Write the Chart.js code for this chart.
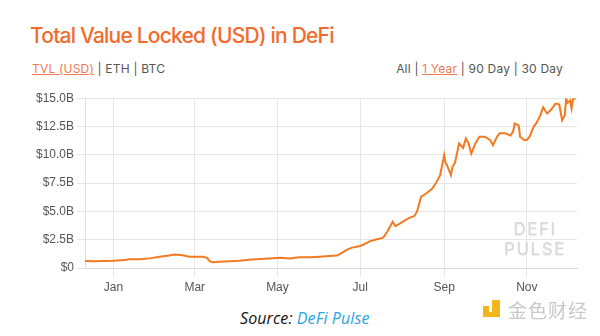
<!DOCTYPE html>
<html>
<head>
<meta charset="utf-8">
<script src="https://cdn.jsdelivr.net/npm/chart.js@4"></script>
<style>
  html, body { margin: 0; padding: 0; background: #fff; }
  body { width: 600px; height: 336px; position: relative; overflow: hidden; font-family: Inter, "Noto Sans", sans-serif; }
  #title { position: absolute; left: 30px; top: 23px; font-size: 21px; font-weight: 500; color: #f26b2c; white-space: nowrap; letter-spacing: -0.8px; }
  .nav { position: absolute; top: 61px; font-size: 12px; color: #555; white-space: nowrap; letter-spacing: 0.2px; }
  .nav .on { color: #f07a55; text-decoration: underline; }
  #navL { left: 32px; }
  #navR { right: 37px; }
  #wrap { position: absolute; left: 0; top: 88px; width: 600px; height: 210px; }
  #wm { position: absolute; left: 501px; top: 219px; width: 68px; text-align: center; color: #dadada; font-family: Inter, sans-serif; font-size: 17px; font-weight: 500; letter-spacing: 1.5px; line-height: 20px; text-shadow: 0 1px 1px #eee; }
  #src { position: absolute; left: 240px; top: 307px; font-family: "Open Sans", sans-serif; font-style: italic; font-size: 16px; color: #111; white-space: nowrap; letter-spacing: 0.1px; }
  #src span { color: #2aa5e3; }
  #logo { position: absolute; left: 483px; top: 299px; white-space: nowrap; }
  #icon { position: absolute; left: 0; top: 1px; width: 20px; height: 17px; }
  #icon .a { position: absolute; left: 0; top: 6px; width: 6px; height: 6px; background: #f2b51c; }
  #icon .b { position: absolute; left: 9px; top: 0; width: 8px; height: 12px; background: #f2b51c; }
  #icon .c { position: absolute; left: 0; top: 12px; width: 17px; height: 5px; background: #f2b51c; }
  #logotext { position: absolute; left: 25px; top: -3px; font-family: "Noto Sans CJK SC", sans-serif; font-size: 19px; color: #c9c9c9; letter-spacing: 1px; }
</style>
</head>
<body>
<div id="title">Total Value Locked (USD) in DeFi</div>
<div class="nav" id="navL"><span class="on">TVL (USD)</span> | ETH | BTC</div>
<div class="nav" id="navR">All | <span class="on">1 Year</span> | 90 Day | 30 Day</div>
<div id="wrap"><canvas id="c" width="600" height="210"></canvas></div>
<div id="wm">DEFI<br>PULSE</div>
<div id="src">Source: <span>DeFi Pulse</span></div>
<div id="logo"><div id="icon"><div class="a"></div><div class="b"></div><div class="c"></div></div><div id="logotext">金色财经</div></div>
<script>
const dates = [
  "2019-12-11","2019-12-18","2020-01-01","2020-01-09","2020-01-13","2020-01-20","2020-01-28",
  "2020-02-04","2020-02-11","2020-02-15","2020-02-19","2020-02-22","2020-02-26","2020-03-01",
  "2020-03-07","2020-03-10","2020-03-12","2020-03-14","2020-03-19","2020-03-27","2020-04-03",
  "2020-04-10","2020-04-18","2020-04-25","2020-05-03","2020-05-10","2020-05-17","2020-05-25",
  "2020-06-01","2020-06-08","2020-06-14","2020-06-17","2020-06-21","2020-06-25","2020-07-01",
  "2020-07-04","2020-07-08","2020-07-12","2020-07-18","2020-07-21","2020-07-25","2020-07-27",
  "2020-07-30","2020-08-03","2020-08-06","2020-08-10","2020-08-12","2020-08-15","2020-08-19",
  "2020-08-23","2020-08-26","2020-08-29","2020-09-01","2020-09-02","2020-09-03","2020-09-06",
  "2020-09-07","2020-09-09","2020-09-12","2020-09-15","2020-09-17","2020-09-19","2020-09-21",
  "2020-09-24","2020-09-27","2020-10-01","2020-10-05","2020-10-07","2020-10-10","2020-10-12",
  "2020-10-16","2020-10-20","2020-10-22","2020-10-23","2020-10-26","2020-10-27","2020-10-30",
  "2020-11-01","2020-11-03","2020-11-06","2020-11-08","2020-11-11","2020-11-13","2020-11-15",
  "2020-11-16","2020-11-19","2020-11-22","2020-11-24","2020-11-25","2020-11-27","2020-11-29",
  "2020-11-30","2020-12-01","2020-12-03","2020-12-04","2020-12-05","2020-12-07"
];
const tvlBillions = [
  0.62,0.60,0.65,0.70,0.77,0.78,0.85,
  1.00,1.10,1.20,1.15,1.10,1.00,1.00,
  1.00,0.90,0.60,0.50,0.55,0.60,0.65,
  0.72,0.80,0.85,0.90,0.85,0.95,0.95,
  1.00,1.05,1.10,1.30,1.60,1.80,1.95,
  2.10,2.35,2.50,2.68,3.20,4.09,3.70,
  3.90,4.20,4.40,4.60,5.00,6.30,6.60,
  7.00,7.50,8.20,9.97,9.30,9.10,8.20,
  8.90,9.30,11.00,10.60,11.45,11.00,10.10,
  11.00,11.60,11.60,11.30,10.85,11.60,11.90,
  11.90,11.70,12.10,12.77,12.60,11.60,11.30,
  11.30,11.60,12.47,12.80,13.50,14.20,13.80,
  13.65,14.00,14.50,14.50,14.40,13.06,13.50,
  15.00,14.60,14.80,14.10,14.90,15.00
];
const monthTickDates = ["2020-01-01","2020-03-01","2020-05-01","2020-07-01","2020-09-01","2020-11-01"];
const monthTickLabels = ["Jan","Mar","May","Jul","Sep","Nov"];
const yTickValues = [0, 2.5, 5, 7.5, 10, 12.5, 15];
const yTickLabels = ["$0","$2.5B","$5.0B","$7.5B","$10.0B","$12.5B","$15.0B"];
const axisStart = "2019-12-11";
const axisEnd = "2020-12-08";

const DAY = 86400000;
const origin = Date.UTC(2020, 0, 1);
const toDay = s => { const p = s.split("-").map(Number); return (Date.UTC(p[0], p[1]-1, p[2]) - origin) / DAY; };
const points = dates.map((d, i) => ({ x: toDay(d), y: tvlBillions[i] }));
const monthTicks = monthTickDates.map(toDay);

const gridColor = "#e6e6e6";
new Chart(document.getElementById("c"), {
  type: "line",
  data: { datasets: [{ data: points, borderColor: "#f47a21", borderWidth: 2, pointRadius: 0, tension: 0, fill: false }] },
  options: {
    responsive: false, animation: false, events: [],
    layout: { padding: { top: 10, right: 23, left: 0, bottom: 0 } },
    plugins: { legend: { display: false }, tooltip: { enabled: false } },
    scales: {
      x: {
        type: "linear", min: toDay(axisStart), max: toDay(axisEnd),
        afterBuildTicks: s => { s.ticks = monthTicks.map(v => ({ value: v })); },
        afterFit: s => { s.height = 30; },
        ticks: { autoSkip: false, maxRotation: 0, color: "#555", padding: 3,
                 font: { family: "'Liberation Sans', Arial, sans-serif", size: 12 },
                 callback: v => monthTickLabels[monthTicks.indexOf(v)] },
        grid: { color: gridColor, tickLength: 9 },
        border: { color: "#d8d8d8" }
      },
      y: {
        min: 0, max: 15,
        afterBuildTicks: s => { s.ticks = yTickValues.map(v => ({ value: v })); },
        afterFit: s => { s.width = 85; },
        ticks: { color: "#555", padding: 3,
                 font: { family: "'Liberation Sans', Arial, sans-serif", size: 12 },
                 callback: v => yTickLabels[yTickValues.indexOf(v)] },
        grid: { color: gridColor, tickLength: 8 },
        border: { color: "#e0e0e0" }
      }
    }
  }
});
</script>
</body>
</html>
